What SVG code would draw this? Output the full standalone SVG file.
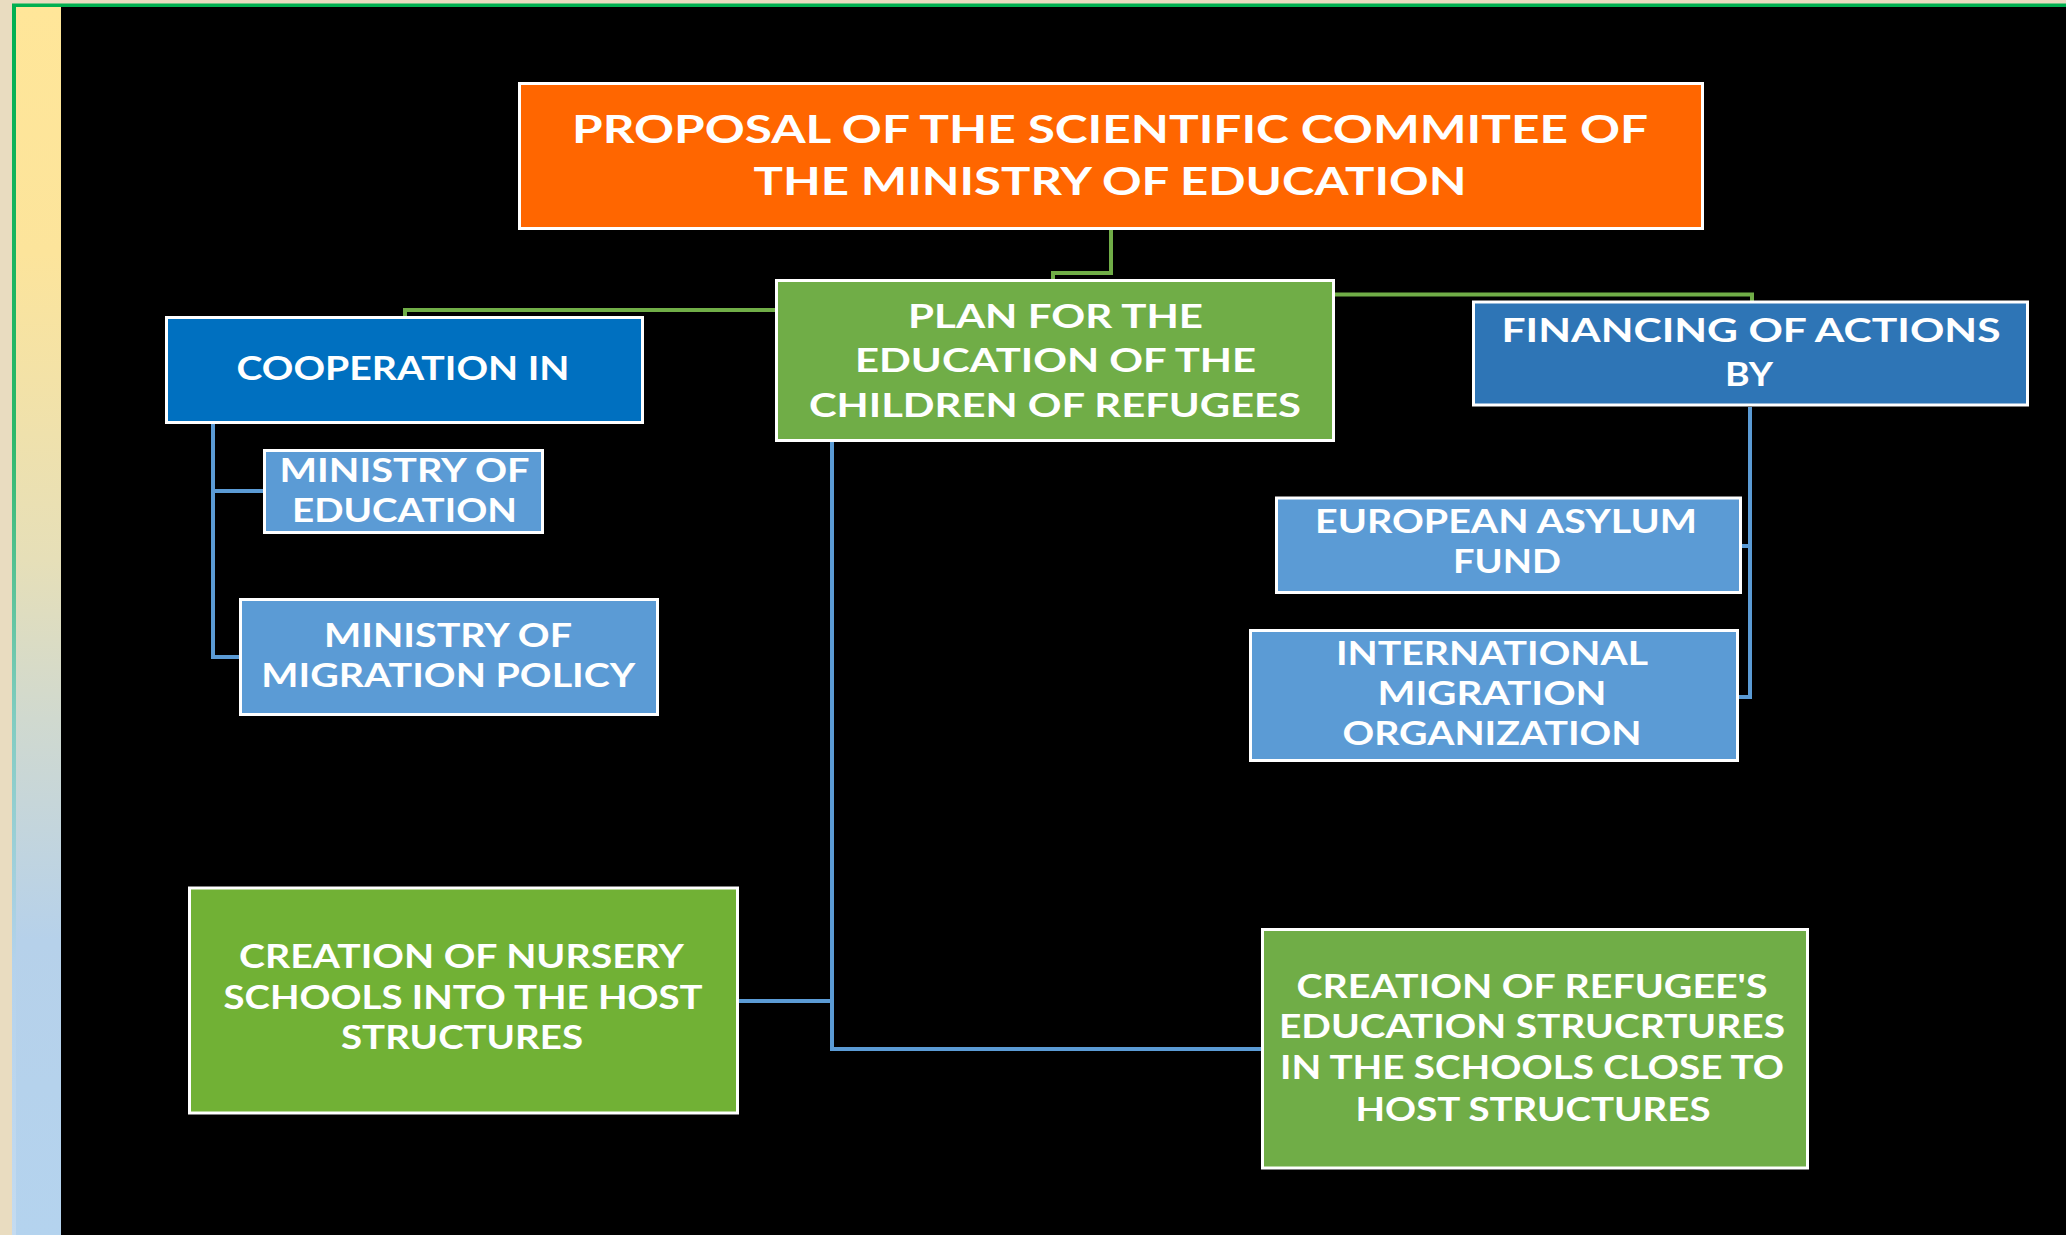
<svg xmlns="http://www.w3.org/2000/svg" width="2066" height="1235" viewBox="0 0 2066 1235">
<defs>
<linearGradient id="strip" x1="0" y1="7" x2="0" y2="1235" gradientUnits="userSpaceOnUse">
<stop offset="0" stop-color="#FFE699"/>
<stop offset="0.2" stop-color="#FCE49B"/>
<stop offset="0.45" stop-color="#E6DFB8"/>
<stop offset="0.58" stop-color="#D0D9CF"/>
<stop offset="0.76" stop-color="#B6D1EA"/>
<stop offset="1" stop-color="#B4D3EE"/>
</linearGradient>
<linearGradient id="edge" x1="0" y1="0" x2="0" y2="1235" gradientUnits="userSpaceOnUse">
<stop offset="0" stop-color="#00B050"/>
<stop offset="0.35" stop-color="#2DB86A"/>
<stop offset="0.58" stop-color="#80CCC0"/>
<stop offset="0.78" stop-color="#B4D2EC"/>
<stop offset="1" stop-color="#C4DBF0"/>
</linearGradient>
<style>
.box{stroke:#FFFFFF;stroke-width:3}
.orange{fill:#FF6600}
.dblue{fill:#0070C0}
.mblue{fill:#2E75B6}
.lblue{fill:#5B9BD5}
.green{fill:#70AD47}
.lime{fill:#71B135}
.t{font-family:Lato,"Open Sans","Liberation Sans",sans-serif;font-weight:700;fill:#FFFFFF;text-anchor:middle;font-size:33px}
.big{font-size:39px}
.sm{font-size:32px}
.cg{fill:none;stroke:#70AD47;stroke-width:4}
.cb{fill:none;stroke:#5B9BD5;stroke-width:4}
</style>
</defs>
<rect x="0" y="0" width="2066" height="1235" fill="#E9DCC0"/>
<rect x="12" y="3.5" width="2060" height="1240" fill="#00B050"/>
<rect x="12" y="7" width="4" height="1228" fill="url(#edge)"/>
<rect x="16" y="7" width="45" height="1228" fill="url(#strip)"/>
<rect x="61" y="7" width="2005" height="1228" fill="#000000"/>

<g id="connectors">
<path class="cg" d="M1111 230 V273 H1053 V279"/>
<path class="cg" d="M775 310 H405 V316"/>
<path class="cg" d="M1335 294.5 H1752 V301"/>
<path class="cb" d="M213 424 V657 H239"/>
<path class="cb" d="M213 491 H263"/>
<path class="cb" d="M1750 407 V697 H1739"/>
<path class="cb" d="M1750 546 H1742"/>
<path class="cb" d="M832 442 V1049 H1261"/>
<path class="cb" d="M739 1001 H832"/>
</g>

<g id="proposal">
<rect class="box orange" x="519.5" y="83.5" width="1183" height="145"/>
<text class="t big" x="1110" y="143" textLength="1076" lengthAdjust="spacingAndGlyphs">PROPOSAL OF THE SCIENTIFIC COMMITEE OF</text>
<text class="t big" x="1110" y="195" textLength="713" lengthAdjust="spacingAndGlyphs">THE MINISTRY OF EDUCATION</text>
</g>

<g id="cooperation">
<rect class="box dblue" x="166.5" y="317.5" width="476" height="105"/>
<text class="t" x="403" y="380" textLength="333" lengthAdjust="spacingAndGlyphs">COOPERATION IN</text>
</g>

<g id="plan">
<rect class="box green" x="776.5" y="280.5" width="557" height="160"/>
<text class="t" x="1055.5" y="328" textLength="295" lengthAdjust="spacingAndGlyphs">PLAN FOR THE</text>
<text class="t" x="1055.5" y="372" textLength="401" lengthAdjust="spacingAndGlyphs">EDUCATION OF THE</text>
<text class="t" x="1055" y="417" textLength="492" lengthAdjust="spacingAndGlyphs">CHILDREN OF REFUGEES</text>
</g>

<g id="financing">
<rect class="box mblue" x="1473.5" y="302" width="554" height="103"/>
<text class="t" x="1751" y="342" textLength="499" lengthAdjust="spacingAndGlyphs">FINANCING OF ACTIONS</text>
<text class="t" x="1749" y="386" textLength="48" lengthAdjust="spacingAndGlyphs">BY</text>
</g>

<g id="ministry-education">
<rect class="box lblue" x="264.5" y="450.5" width="278" height="82"/>
<text class="t" x="404.5" y="481.5" textLength="250" lengthAdjust="spacingAndGlyphs">MINISTRY OF</text>
<text class="t" x="404.5" y="522" textLength="225" lengthAdjust="spacingAndGlyphs">EDUCATION</text>
</g>

<g id="ministry-migration">
<rect class="box lblue" x="240.5" y="599.5" width="417" height="115"/>
<text class="t" x="448" y="647" textLength="248" lengthAdjust="spacingAndGlyphs">MINISTRY OF</text>
<text class="t" x="448.3" y="687" textLength="374" lengthAdjust="spacingAndGlyphs">MIGRATION POLICY</text>
</g>

<g id="asylum-fund">
<rect class="box lblue" x="1276.5" y="498" width="464" height="94.5"/>
<text class="t" x="1506" y="533" textLength="382" lengthAdjust="spacingAndGlyphs">EUROPEAN ASYLUM</text>
<text class="t" x="1507" y="573" textLength="108" lengthAdjust="spacingAndGlyphs">FUND</text>
</g>

<g id="imo">
<rect class="box lblue" x="1250.5" y="630.5" width="487" height="130"/>
<text class="t" x="1492" y="665" textLength="312" lengthAdjust="spacingAndGlyphs">INTERNATIONAL</text>
<text class="t" x="1492" y="705" textLength="229" lengthAdjust="spacingAndGlyphs">MIGRATION</text>
<text class="t" x="1492" y="745" textLength="299" lengthAdjust="spacingAndGlyphs">ORGANIZATION</text>
</g>

<g id="nursery">
<rect class="box lime" x="189.5" y="888" width="548" height="225"/>
<text class="t sm" x="461.5" y="968" textLength="445" lengthAdjust="spacingAndGlyphs">CREATION OF NURSERY</text>
<text class="t sm" x="463" y="1009" textLength="479" lengthAdjust="spacingAndGlyphs">SCHOOLS INTO THE HOST</text>
<text class="t sm" x="462" y="1049" textLength="242" lengthAdjust="spacingAndGlyphs">STRUCTURES</text>
</g>

<g id="refugee-structures">
<rect class="box green" x="1262.5" y="929.5" width="545" height="238.5"/>
<text class="t sm" x="1532" y="997.5" textLength="471" lengthAdjust="spacingAndGlyphs">CREATION OF REFUGEE'S</text>
<text class="t sm" x="1532" y="1038" textLength="506" lengthAdjust="spacingAndGlyphs">EDUCATION STRUCRTURES</text>
<text class="t sm" x="1532" y="1079" textLength="504" lengthAdjust="spacingAndGlyphs">IN THE SCHOOLS CLOSE TO</text>
<text class="t sm" x="1533" y="1120.5" textLength="355" lengthAdjust="spacingAndGlyphs">HOST STRUCTURES</text>
</g>
</svg>
